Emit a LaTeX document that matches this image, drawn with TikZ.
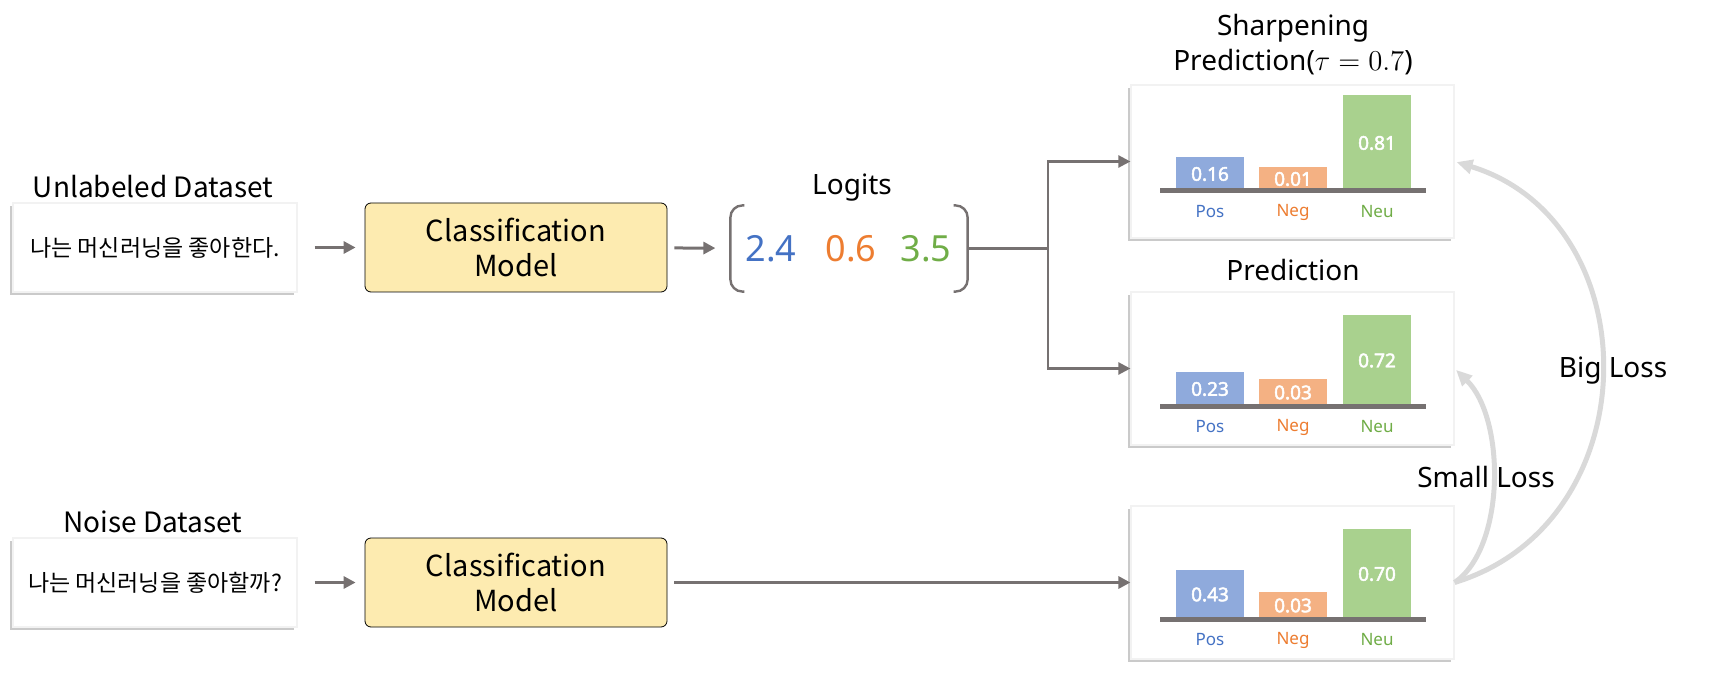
\documentclass[tikz,border=0pt]{standalone}
\usepackage{fontspec}
\setmainfont{Noto Sans}
\newfontfamily\krfont{Noto Sans CJK KR}
\newfontfamily\valuefont{Noto Sans}[FakeBold=2.5]
\usetikzlibrary{arrows.meta, shadows}

\definecolor{lineGray}{HTML}{767171}
\definecolor{lossGray}{HTML}{D9D9D9}
\definecolor{modelFill}{HTML}{FDEBB0}
\definecolor{posBar}{HTML}{8FAADC}
\definecolor{negBar}{HTML}{F4B183}
\definecolor{neuBar}{HTML}{A9D18E}
\definecolor{posText}{HTML}{4472C4}
\definecolor{negText}{HTML}{ED7D31}
\definecolor{neuText}{HTML}{70AD47}

\begin{document}
\begin{tikzpicture}[x=0.5pt, y=-0.5pt, semithick]
	\tikzstyle{srcBox} = [fill=white, draw=black!5, minimum width=142pt, minimum height=44.5pt, drop shadow={shadow xshift=-1.5pt, shadow yshift=-1.5pt, opacity=0.35, fill=black!60}, font={\krfont\fontsize{11.5}{13}\selectfont}]
	\tikzstyle{modelBox} = [draw=black, thin, fill=modelFill, rounded corners=3pt, minimum width=151pt, minimum height=44.5pt, align=center, font={\krfont\fontsize{14.5}{17.5}\selectfont}]
	\tikzstyle{chartBox} = [fill=white, draw=black!5, minimum width=161.5pt, minimum height=76.5pt, drop shadow={shadow xshift=-1.5pt, shadow yshift=-1.5pt, opacity=0.35, fill=black!60}]
	\tikzstyle{caption} = [align=center, font={\fontsize{14}{17.5}\selectfont}]
	\tikzstyle{setTitle} = [font={\krfont\fontsize{14}{17}\selectfont}]
	\tikzstyle{logitNum} = [font={\fontsize{18}{20}\selectfont}]
	\tikzstyle{barValue} = [text=white, font={\valuefont\fontsize{9.5}{10}\selectfont}]
	\tikzstyle{barLabel} = [font={\fontsize{8.5}{10}\selectfont}]
	\tikzstyle{flowArrow} = [draw=lineGray, line width=1.5pt, -{Triangle[length=6pt, width=6pt]}]
	\tikzstyle{lossArrow} = [draw=lossGray, line width=2.5pt, -{Triangle[length=8pt, width=7pt]}, shorten >=1pt]

	\useasboundingbox (0,0) rectangle (1711,673);

	% inputs and models
	\node[setTitle] (unlblTitle) at (153,187) {Unlabeled Dataset};
	\node[srcBox] (srcA) at (155,247.5) {나는 머신러닝을 좋아한다.};
	\node[modelBox] (modelA) at (516,247.5) {Classification\\Model};

	\node[setTitle] (noiseTitle) at (153,522) {Noise Dataset};
	\node[srcBox] (srcB) at (155,582.5) {나는 머신러닝을 좋아할까?};
	\node[modelBox] (modelB) at (516,582.5) {Classification\\Model};

	% logits
	\node[caption] (logitTitle) at (852,188) {Logits};
	\node[minimum width=118pt, minimum height=42.5pt] (logits) at (849,248.5) {};
	\draw[lineGray, line width=1.2pt, rounded corners=6pt] ([xshift=7pt]logits.north west) -- (logits.north west) -- (logits.south west) -- ([xshift=7pt]logits.south west);
	\draw[lineGray, line width=1.2pt, rounded corners=6pt] ([xshift=-7pt]logits.north east) -- (logits.north east) -- (logits.south east) -- ([xshift=-7pt]logits.south east);
	\node[logitNum, text=posText] (lgPos) at (771,249) {2.4};
	\node[logitNum, text=negText] (lgNeg) at (851,249) {0.6};
	\node[logitNum, text=neuText] (lgNeu) at (926,249) {3.5};

	% prediction charts
	\node[caption] (titleS) at (1293,45) {Sharpening\\Prediction($\tau = 0.7$)};
	\node[caption] (titleP) at (1293,270) {Prediction};
	\node[chartBox] (chartS) at (1292.5,161.5) {};
	\node[chartBox] (chartP) at (1292.5,368.5) {};
	\node[chartBox] (chartN) at (1292.5,582.5) {};

	\foreach \cy/\hp/\hn/\hu/\vp/\vn/\vu in {191/34/24/96/0.16/0.01/0.81, 406/34/27/91/0.23/0.03/0.72, 619/49/27/90/0.43/0.03/0.70} {
		\foreach \bx/\bh/\bv/\bc/\tc/\lab in {1210/\hp/\vp/posBar/posText/Pos, 1293/\hn/\vn/negBar/negText/Neg, 1377/\hu/\vu/neuBar/neuText/Neu} {
			\fill[\bc] (\bx-34,\cy) rectangle (\bx+34,\cy-\bh);
			\node[barValue] (val-\cy-\lab) at (\bx,\cy-\bh/2) {\bv};
			\node[barLabel, text=\tc] (lab-\cy-\lab) at (\bx,\cy+21) {\lab};
		}
		\draw[lineGray, line width=2.5pt] (1160,\cy) -- (1426,\cy);
	}

	% connectors
	\draw[flowArrow, shorten <=8.5pt, shorten >=4.5pt] (srcA) -- (modelA);
	\draw[flowArrow, shorten <=3.5pt, shorten >=7.5pt] (modelA) -- (logits);
	\draw[flowArrow, shorten <=8.5pt, shorten >=4.5pt] (srcB) -- (modelB);
	\draw[flowArrow, shorten <=3.5pt] (modelB) -- (chartN);

	\coordinate (split) at (1048,248.5);
	\draw[lineGray, line width=1.2pt] (logits.east) -- (split);
	\draw[flowArrow, line width=1.2pt] (split) |- (chartS);
	\draw[flowArrow, line width=1.2pt] (split) |- (chartP);

	% losses
	\draw[lossArrow] (chartN.east) .. controls +(196,-60) and +(196,60) .. (chartS.east);
	\draw[lossArrow] (chartN.east) .. controls +(51,-35) and +(51,50) .. (chartP.east);
	\node[caption] (bigLoss) at (1613,371) {Big Loss};
	\node[caption] (smallLoss) at (1486,477) {Small Loss};
\end{tikzpicture}
\end{document}
